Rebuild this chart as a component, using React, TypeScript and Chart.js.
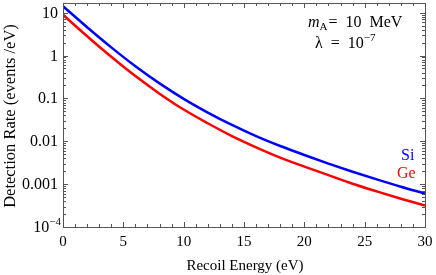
import React, { useEffect, useRef } from "react";
import { Chart, registerables } from "chart.js";

Chart.register(...registerables);

const energies = [0, 2, 4, 6, 8, 10, 12, 14, 16, 18, 20, 22, 24, 26, 28, 30];
const siRate = [14.1, 4.57, 1.55, 0.562, 0.224, 0.0977, 0.0468, 0.024, 0.0132, 0.00776, 0.00479, 0.00302, 0.00195, 0.00129, 0.00087, 0.000603];
const geRate = [8.91, 2.82, 0.933, 0.331, 0.129, 0.055, 0.0263, 0.0132, 0.00724, 0.00417, 0.00257, 0.00162, 0.00102, 0.000676, 0.000457, 0.000316];

const xTickValues = [0, 5, 10, 15, 20, 25, 30];
const xTickLabels = ["0", "5", "10", "15", "20", "25", "30"];
const yTickValues = [10, 1, 0.1, 0.01, 0.001, 0.0001];
const yTickLabels = ["10", "1", "0.1", "0.01", "0.001", "10^-4"];

const SERIF = "'Liberation Serif', 'DejaVu Serif', serif";

const framePlugin = {
  id: "framePlugin",
  afterDraw(chart: any) {
    const { ctx, chartArea: a } = chart;
    const xs = chart.scales.x;
    const ys = chart.scales.y;
    ctx.save();
    ctx.strokeStyle = "#555";
    ctx.lineWidth = 1;
    ctx.strokeRect(a.left + 0.5, a.top + 0.5, a.right - a.left, a.bottom - a.top);
    ctx.beginPath();
    for (let v = 0; v <= 30; v++) {
      const px = Math.round(xs.getPixelForValue(v)) + 0.5;
      const len = v % 5 === 0 ? 5 : 3;
      ctx.moveTo(px, a.bottom);
      ctx.lineTo(px, a.bottom - len);
      ctx.moveTo(px, a.top);
      ctx.lineTo(px, a.top + len);
    }
    for (let e = -4; e <= 1; e++) {
      for (let m = 1; m <= 9; m++) {
        const v = m * Math.pow(10, e);
        if (v > ys.max) continue;
        const py = Math.round(ys.getPixelForValue(v)) + 0.5;
        const len = m === 1 ? 5 : 3;
        ctx.moveTo(a.left, py);
        ctx.lineTo(a.left + len, py);
        ctx.moveTo(a.right, py);
        ctx.lineTo(a.right - len, py);
      }
    }
    ctx.stroke();

    ctx.fillStyle = "#000";
    ctx.textBaseline = "alphabetic";
    ctx.font = `15px ${SERIF}`;
    ctx.textAlign = "center";
    xTickValues.forEach((v, i) => {
      ctx.fillText(xTickLabels[i], xs.getPixelForValue(v), 246);
    });
    yTickValues.forEach((v, i) => {
      const py = ys.getPixelForValue(v) + 5;
      const lab = yTickLabels[i];
      ctx.textAlign = "right";
      if (lab.includes("^")) {
        const [base, exp] = lab.split("^");
        const e = exp.replace("-", "\u2212");
        ctx.font = `11px ${SERIF}`;
        const ew = ctx.measureText(e).width;
        ctx.fillText(e, 61, py - 7);
        ctx.font = `16px ${SERIF}`;
        ctx.fillText(base, 61 - ew, py);
      } else {
        ctx.font = `16px ${SERIF}`;
        ctx.fillText(lab, 58, py);
      }
    });
    ctx.font = `15px ${SERIF}`;
    ctx.textAlign = "center";
    ctx.fillText("Recoil Energy (eV)", 245, 270);
    ctx.save();
    ctx.translate(15, 116);
    ctx.rotate(-Math.PI / 2);
    ctx.font = `16.5px ${SERIF}`;
    ctx.fillText("Detection Rate (events /eV)", 0, 0);
    ctx.restore();

    ctx.textAlign = "left";
    ctx.font = `italic 16px ${SERIF}`;
    let x = 308;
    ctx.fillText("m", x, 27);
    x += ctx.measureText("m").width;
    ctx.font = `11px ${SERIF}`;
    ctx.fillText("A", x, 30);
    x += ctx.measureText("A").width + 1;
    ctx.font = `16px ${SERIF}`;
    ctx.fillText("=  10  MeV", x, 27);

    x = 315;
    ctx.fillText("\u03bb  =  10", x, 48);
    x += ctx.measureText("\u03bb  =  10").width;
    ctx.font = `11px ${SERIF}`;
    ctx.fillText("\u22127", x, 41);

    ctx.font = `16px ${SERIF}`;
    ctx.fillStyle = "#0000ff";
    ctx.fillText("Si", 401, 160);
    ctx.fillStyle = "#ff0000";
    ctx.fillText("Ge", 397, 178);
    ctx.restore();
  },
};

export default function App() {
  const ref = useRef<HTMLCanvasElement | null>(null);
  useEffect(() => {
    document.body.style.margin = "0";
    const canvas = ref.current!;
    const chart = new Chart(canvas, {
      type: "line",
      data: {
        datasets: [
          {
            label: "Si",
            data: energies.map((e, i) => ({ x: e, y: siRate[i] })),
            borderColor: "#0000ff",
            borderWidth: 2.5,
            pointRadius: 0,
            cubicInterpolationMode: "monotone",
            fill: false,
          },
          {
            label: "Ge",
            data: energies.map((e, i) => ({ x: e, y: geRate[i] })),
            borderColor: "#ff0000",
            borderWidth: 2.5,
            pointRadius: 0,
            cubicInterpolationMode: "monotone",
            fill: false,
          },
        ],
      },
      options: {
        animation: false,
        responsive: false,
        layout: { padding: { top: 3, right: 11, left: 0, bottom: 0 } },
        plugins: { legend: { display: false }, tooltip: { enabled: false } },
        scales: {
          x: {
            type: "linear",
            min: 0,
            max: 30,
            ticks: { display: false },
            grid: { display: false },
            border: { display: false },
            afterFit: (s: any) => {
              s.height = 48;
            },
          },
          y: {
            type: "logarithmic",
            min: 0.0001,
            max: 16.8,
            ticks: { display: false },
            grid: { display: false },
            border: { display: false },
            afterFit: (s: any) => {
              s.width = 63;
            },
          },
        },
      },
      plugins: [framePlugin],
    } as any);
    return () => chart.destroy();
  }, []);
  return (
    <div style={{ width: 436, height: 275 }}>
      <canvas ref={ref} width={436} height={275} style={{ width: 436, height: 275 }} />
    </div>
  );
}
